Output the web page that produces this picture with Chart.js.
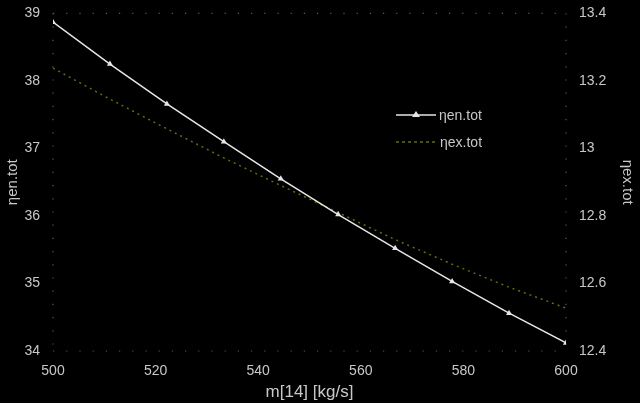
<!DOCTYPE html>
<html>
<head>
<meta charset="utf-8">
<script src="https://cdn.jsdelivr.net/npm/chart.js@4.4.0/dist/chart.umd.min.js"></script>
<style>
  html, body { margin: 0; padding: 0; background: #000; }
  #wrap { width: 640px; height: 403px; position: relative; }
</style>
</head>
<body>
<div id="wrap"><canvas id="mycanvas" width="640" height="403"></canvas></div>
<script>
// m[14] values (x axis)
var mass = [500, 511.1, 522.2, 533.3, 544.4, 555.6, 566.7, 577.8, 588.9, 600];
// left axis series
var etaEn = [38.87, 38.25, 37.66, 37.10, 36.55, 36.02, 35.52, 35.03, 34.56, 34.12];
// right axis series
var etaEx = [13.238, 13.146, 13.058, 12.972, 12.890, 12.810, 12.730, 12.657, 12.589, 12.527];

var enLabel = "\u03B7en.tot";
var exLabel = "\u03B7ex.tot";

var enPoints = [];
var exPoints = [];
for (var i in mass) {
  enPoints.push({x: mass[i], y: etaEn[i]});
  exPoints.push({x: mass[i], y: etaEx[i]});
}

var white = "#e6e6e6";
var green = "#5f6e14";
var tickColor = "#c8c8c8";

Chart.defaults.font.family = "'Liberation Sans', Arial, sans-serif";

var bgPlugin = {
  id: "bg",
  beforeDraw: function(chart) {
    var c = chart.ctx;
    c.save();
    c.fillStyle = "#000";
    c.fillRect(0, 0, chart.width, chart.height);
    c.restore();
  }
};

// dotted frame round the plot area
var framePlugin = {
  id: "frame",
  beforeDatasetsDraw: function(chart) {
    var a = chart.chartArea;
    var c = chart.ctx;
    c.save();
    c.strokeStyle = "#5a5a5a";
    c.lineWidth = 1.2;
    c.setLineDash([1.2, 12]);
    c.beginPath();
    c.moveTo(a.left, a.top); c.lineTo(a.right, a.top);
    c.moveTo(a.left, a.bottom); c.lineTo(a.right, a.bottom);
    c.moveTo(a.left, a.top); c.lineTo(a.left, a.bottom);
    c.moveTo(a.right, a.top); c.lineTo(a.right, a.bottom);
    c.stroke();
    c.restore();
  }
};

// legend drawn inside plot area
var legendPlugin = {
  id: "inlegend",
  afterDatasetsDraw: function(chart) {
    var c = chart.ctx;
    c.save();
    c.font = "14px 'Liberation Sans', Arial, sans-serif";
    c.textBaseline = "middle";
    c.strokeStyle = white;
    c.lineWidth = 1.5;
    c.beginPath(); c.moveTo(396, 115); c.lineTo(436, 115); c.stroke();
    c.fillStyle = white;
    c.beginPath(); c.moveTo(416, 111); c.lineTo(420, 117); c.lineTo(412, 117); c.closePath(); c.fill();
    c.fillStyle = tickColor;
    c.fillText(enLabel, 439, 116);
    c.strokeStyle = green;
    c.setLineDash([3, 3]);
    c.beginPath(); c.moveTo(396, 142); c.lineTo(436, 142); c.stroke();
    c.setLineDash([]);
    c.fillStyle = tickColor;
    c.fillText(exLabel, 440, 143);
    c.restore();
  }
};

var ctx = document.getElementById("mycanvas");
var LineGraph = new Chart(ctx, {
  type: "scatter",
  data: {
    datasets: [
      {
        label: enLabel,
        data: enPoints,
        yAxisID: "y",
        showLine: true,
        borderColor: white,
        backgroundColor: white,
        borderWidth: 1.5,
        pointStyle: "triangle",
        pointRadius: 3.5,
        pointBorderWidth: 0,
        lineTension: 0
      },
      {
        label: exLabel,
        data: exPoints,
        yAxisID: "y2",
        showLine: true,
        borderColor: green,
        backgroundColor: green,
        borderWidth: 1.5,
        borderDash: [2, 4],
        pointRadius: 0,
        lineTension: 0
      }
    ]
  },
  options: {
    responsive: false,
    animation: false,
    layout: {padding: {left: 0, right: 0, top: 12, bottom: 0}},
    plugins: {legend: {display: false}, tooltip: {enabled: false}},
    scales: {
      x: {
        type: "linear",
        position: "bottom",
        min: 500, max: 600,
        ticks: {stepSize: 20, color: tickColor, font: {size: 14}, padding: 4, maxRotation: 0},
        grid: {display: false},
        border: {display: false},
        title: {display: true, text: "m[14] [kg/s]", color: tickColor, font: {size: 17}, padding: {top: -2, bottom: 0}},
        afterFit: function(s) { s.height = 52; }
      },
      y: {
        position: "left",
        min: 34, max: 39,
        ticks: {stepSize: 1, color: tickColor, font: {size: 14}, padding: 5},
        grid: {display: false},
        border: {display: false},
        title: {display: true, text: enLabel, color: tickColor, font: {size: 15}, padding: {top: 4, bottom: 0}},
        afterFit: function(s) { s.width = 53; }
      },
      y2: {
        position: "right",
        min: 12.4, max: 13.4,
        ticks: {stepSize: 0.2, color: tickColor, font: {size: 14}, padding: 5,
          callback: function(v) { return Math.round(v * 10) / 10; }},
        grid: {display: false},
        border: {display: false},
        title: {display: true, text: exLabel, color: tickColor, font: {size: 15}, padding: {top: 4, bottom: 0}},
        afterFit: function(s) { s.width = 74; }
      }
    }
  },
  plugins: [bgPlugin, framePlugin, legendPlugin]
});
</script>
</body>
</html>
